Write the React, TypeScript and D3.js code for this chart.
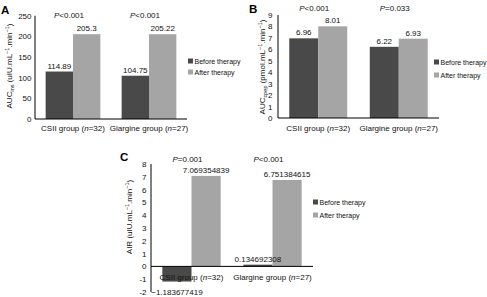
import React from "react";
import * as d3 from "d3";

const groups = ["CSII group", "Glargine group"];
const groupN = ["32", "27"];
const seriesNames = ["Before therapy", "After therapy"];

const aBefore = [114.89, 104.75];
const aAfter = [205.3, 205.22];
const aLabels = [["114.89", "205.3"], ["104.75", "205.22"]];
const aP = ["<0.001", "<0.001"];
const aTicks = [0, 50, 100, 150, 200, 250];

const bBefore = [6.96, 6.22];
const bAfter = [8.01, 6.93];
const bLabels = [["6.96", "8.01"], ["6.22", "6.93"]];
const bP = ["<0.001", "=0.033"];
const bTicks = [0, 1, 2, 3, 4, 5, 6, 7, 8, 9];

const cBefore = [-1.183677419, 0.134692308];
const cAfter = [7.069354839, 6.751384615];
const cLabels = [["\u22121.183677419", "7.069354839"], ["0.134692308", "6.751384615"]];
const cP = ["=0.001", "<0.001"];
const cTicks = [-2, -1, 0, 1, 2, 3, 4, 5, 6, 7, 8];

const colors = ["#494949", "#a5a5a5"];
const FONT = "'Liberation Sans', Arial, sans-serif";

type PanelProps = {
  letter: string;
  letterPos: [number, number];
  before: number[];
  after: number[];
  labels: string[][];
  pVals: string[];
  ticks: number[];
  domain: [number, number];
  yRange: [number, number];
  xRange: [number, number];
  tickRight: number;
  pY: number;
  catDy: number;
  yLabelPos: [number, number];
  yLabelSub: string;
  yLabelPre: string;
  yLabelUnit: string;
  legendX: number;
  legendY: number[];
};

function Panel(p: PanelProps) {
  const x = d3.scaleBand<string>().domain(groups).range(p.xRange).paddingInner(0.28).paddingOuter(0.14);
  const xs = d3.scaleBand<string>().domain(seriesNames).range([0, x.bandwidth()]);
  const y = d3.scaleLinear().domain(p.domain).range(p.yRange);
  const vals = [p.before, p.after];
  const y0 = y(0);
  const fs = 8;
  const marks = groups.flatMap((g, gi) =>
    seriesNames.map((s, si) => {
      const v = vals[si][gi];
      const bx = (x(g) as number) + (xs(s) as number);
      return { key: g + s, v, bx, si, lab: p.labels[gi][si] };
    })
  );
  return (
    <g fontFamily={FONT}>
      <text x={p.letterPos[0]} y={p.letterPos[1]} fontSize={11.5} fontWeight="bold">{p.letter}</text>
      {marks.map((m) => (
        <rect key={m.key} x={m.bx} y={Math.min(y(m.v), y0)} width={xs.bandwidth()} height={Math.abs(y(m.v) - y0)} fill={colors[m.si]} />
      ))}
      {/* axes */}
      <line x1={p.xRange[0]} x2={p.xRange[0]} y1={p.yRange[1]} y2={p.yRange[0]} stroke="#000" strokeWidth={1} />
      <line x1={p.xRange[0]} x2={p.xRange[1]} y1={y0} y2={y0} stroke="#000" strokeWidth={1} />
      {marks.map((m) => (
        <text key={"l" + m.key} x={m.bx + xs.bandwidth() / 2} y={m.v >= 0 ? y(m.v) - 3 : y(p.domain[0]) + 3} fontSize={fs} textAnchor="middle" fill="#111">{m.lab}</text>
      ))}
      {p.ticks.map((t) => (
        <text key={t} x={p.tickRight} y={y(t) + 3} fontSize={fs} textAnchor="end" fill="#111">{t < 0 ? "-" + Math.abs(t) : String(t)}</text>
      ))}
      {groups.map((g, gi) => (
        <text key={g} x={(x(g) as number) + x.bandwidth() / 2} y={y0 + p.catDy} fontSize={fs} textAnchor="middle" fill="#111">
          {g + " ("}<tspan fontStyle="italic">n</tspan>{"=" + groupN[gi] + ")"}
        </text>
      ))}
      {groups.map((g, gi) => (
        <text key={"p" + g} x={(x(g) as number) + x.bandwidth() / 2 - 4} y={p.pY} fontSize={fs} textAnchor="middle" fill="#111">
          <tspan fontStyle="italic">P</tspan>{p.pVals[gi]}
        </text>
      ))}
      <text transform={`translate(${p.yLabelPos[0]},${p.yLabelPos[1]}) rotate(-90)`} fontSize={fs} textAnchor="middle" fill="#111">
        {p.yLabelPre}
        {p.yLabelSub ? <tspan fontSize={5.5} dy={1.5}>{p.yLabelSub}</tspan> : null}
        {p.yLabelSub ? <tspan dy={-1.5}>{" (" + p.yLabelUnit + "mL"}</tspan> : <tspan>{" (" + p.yLabelUnit + "mL"}</tspan>}
        <tspan fontSize={5.5} dy={-3}>{"\u22121"}</tspan>
        <tspan dy={3}>{".min"}</tspan>
        <tspan fontSize={5.5} dy={-3}>{"\u22121"}</tspan>
        <tspan dy={3}>{")"}</tspan>
      </text>
      {seriesNames.map((s, si) => (
        <g key={s}>
          <rect x={p.legendX} y={p.legendY[si] - 2.5} width={5} height={5} fill={colors[si]} />
          <text x={p.legendX + 6.5} y={p.legendY[si] + 2.5} fontSize={7} fill="#111">{s}</text>
        </g>
      ))}
    </g>
  );
}

export default function App() {
  return (
    <svg width={487} height={297} style={{ position: "absolute", left: 0, top: 0, background: "#fff" }}>
      <Panel
        letter="A" letterPos={[1, 13.5]}
        before={aBefore} after={aAfter} labels={aLabels}
        pVals={aP} ticks={aTicks} domain={[0, 250]} yRange={[119, 15.7]} xRange={[35, 187]}
        tickRight={31.5} pY={17.5} catDy={11.5}
        yLabelPos={[12, 66]} yLabelPre="AUC" yLabelSub="ins" yLabelUnit="uIU."
        legendX={188} legendY={[61, 72]}
      />
      <Panel
        letter="B" letterPos={[249, 12.5]}
        before={bBefore} after={bAfter} labels={bLabels}
        pVals={bP} ticks={bTicks} domain={[0, 9]} yRange={[118, 15]} xRange={[278, 439]}
        tickRight={272.5} pY={11} catDy={13}
        yLabelPos={[265, 67]} yLabelPre="AUC" yLabelSub="cpep" yLabelUnit="pmol."
        legendX={434} legendY={[62, 75]}
      />
      <Panel
        letter="C" letterPos={[120, 161]}
        before={cBefore} after={cAfter} labels={cLabels}
        pVals={cP} ticks={cTicks} domain={[-2, 8]} yRange={[292, 164]} xRange={[151, 313]}
        tickRight={146.5} pY={162} catDy={14}
        yLabelPos={[131.5, 217]} yLabelPre="AIR" yLabelSub="" yLabelUnit="uIU."
        legendX={313} legendY={[202, 215]}
      />
    </svg>
  );
}
